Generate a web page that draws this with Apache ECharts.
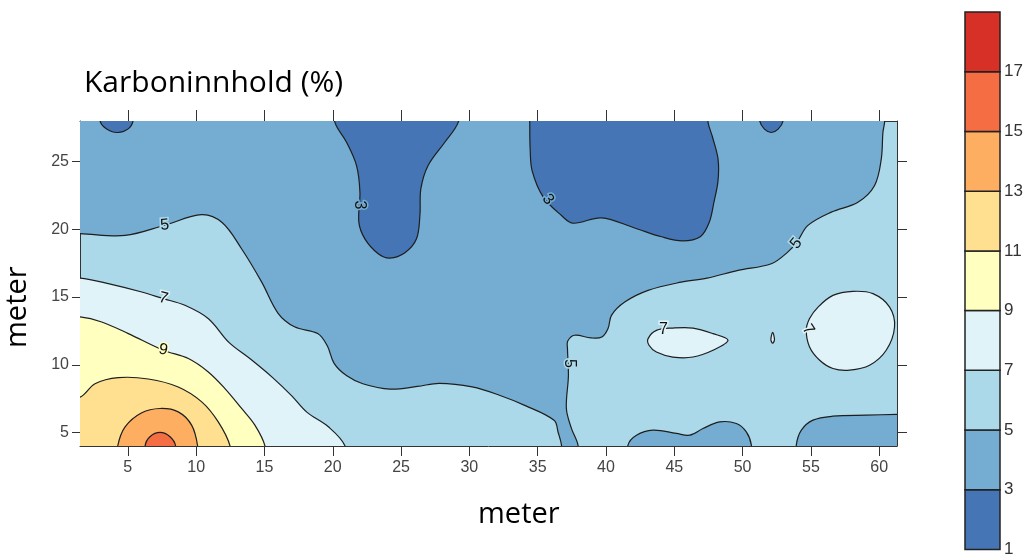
<!DOCTYPE html>
<html>
<head>
<meta charset="utf-8">
<script src="https://cdn.jsdelivr.net/npm/echarts@6/dist/echarts.min.js"></script>
<style>
html,body{margin:0;padding:0;background:#fff;}
#chart{width:1026px;height:558px;}
</style>
</head>
<body>
<div id="chart"></div>
<script>
// ---- axis ticks ----
const xTicks = [5, 10, 15, 20, 25, 30, 35, 40, 45, 50, 55, 60];
const yTicks = [5, 10, 15, 20, 25];
const levelTicks = [1, 3, 5, 7, 9, 11, 13, 15, 17];
const levelBounds = [1, 3, 5, 7, 9, 11, 13, 15, 17, 19];
const levelColors = ['#4575b4', '#74add1', '#abd9e9', '#e0f3f8', '#ffffbf', '#fee090', '#fdae61', '#f46d43', '#d73027'];

// ---- contour regions (data coordinates: meter x, meter y) ----
// 3-5 band, large region (upper part)
const band3to5Main = [
  [-1, 19.7], [1.5, 19.68], [4.8, 19.55], [7.7, 20.3], [10.4, 21.08], [11.9, 20.5], [13.3, 18.6],
  [14.8, 16.1], [16.0, 13.8], [17.2, 12.8], [18.9, 12.3], [19.6, 11.4], [20.1, 10.1], [21.0, 9.2],
  [22.2, 8.6], [24.2, 8.2], [26.2, 8.4], [27.8, 8.63], [30.2, 8.36], [32.2, 7.75], [34.05, 7.0],
  [36.2, 5.9], [36.5, 5.0], [36.75, 4.0], [36.8, 2], [37.9, 2], [37.96, 4.0], [37.47, 5.3],
  [37.1, 6.77], [37.25, 9.2], [37.18, 11.19], [37.2, 11.75], [37.7, 12.18], [38.9, 11.98],
  [39.7, 12.05], [40.15, 12.67], [40.4, 13.65], [41.37, 14.63], [43.08, 15.49], [45.5, 16.1],
  [47.4, 16.4], [49.66, 16.97], [52.1, 17.46], [53.3, 18.32], [54.0, 19.1], [54.78, 20.29],
  [56.49, 21.27], [58.44, 22.0], [59.66, 23.24], [60.15, 25.2], [60.27, 27.17], [60.4, 28],
  [60.45, 31], [-1, 31]
];
// 3-5 band, bottom patches
const band3to5PatchA = [
  [41.55, 2], [41.61, 4.06], [42.23, 4.8], [43.44, 5.17], [45.15, 4.93], [46.13, 4.8], [47.1, 5.29],
  [48.32, 5.78], [49.54, 5.66], [50.27, 5.04], [50.64, 4.06], [50.7, 2]
];
const band3to5PatchB = [
  [53.9, 2], [53.93, 4.06], [54.3, 5.17], [55.15, 5.91], [56.61, 6.2], [59.05, 6.28], [61.3, 6.33],
  [63.5, 6.35], [63.5, 2]
];
// 1-3 band regions
const band1to3A = [[2.9, 29.5], [2.97, 28], [3.4, 27.45], [4.2, 27.15], [5.0, 27.4], [5.38, 28], [5.45, 29.5]];
const band1to3B = [
  [20.1, 29.5], [20.16, 27.9], [21.01, 26.43], [21.74, 24.71], [21.99, 22.74], [21.91, 20.53],
  [22.35, 19.3], [23.33, 18.2], [24.18, 17.88], [25.28, 18.27], [26.13, 19.3], [26.38, 21.02],
  [26.45, 23.0], [26.98, 24.71], [28.2, 26.43], [29.18, 27.9], [29.3, 29.5]
];
const band1to3C = [
  [34.42, 29.5], [34.42, 27.9], [34.45, 25.9], [34.6, 24.3], [35.4, 22.4], [36.74, 21.02],
  [37.6, 20.45], [39.67, 20.85], [42.1, 20.1], [44.06, 19.45], [45.6, 19.15], [46.9, 19.45],
  [47.55, 20.5], [47.9, 22.0], [48.2, 23.6], [48.2, 25.2], [47.8, 26.8], [47.47, 27.9], [47.4, 29.5]
];
const band1to3D = [[51.2, 29.5], [51.25, 28], [51.6, 27.4], [52.1, 27.15], [52.6, 27.4], [52.96, 28], [53.0, 29.5]];
// 7-9 band (left, below the 7 contour)
const band7to9Left = [
  [-1, 16.5], [1.5, 16.4], [3.57, 15.99], [6.02, 15.37], [7.6, 14.88], [9.18, 14.39], [10.9, 13.4],
  [12.4, 11.65], [14.0, 10.4], [15.6, 9.05], [17.0, 7.7], [18.1, 6.5], [19.7, 5.4], [20.9, 4.0],
  [21.1, 2], [-1, 2]
];
// 7-9 islands on the right
const band7to9IslandA = [
  [43.08, 11.93], [43.69, 12.54], [44.9, 12.71], [46.37, 12.71], [47.83, 12.3], [48.93, 11.81],
  [47.83, 11.07], [46.37, 10.57], [44.9, 10.57], [43.69, 10.94], [43.15, 11.44]
];
const band7to9IslandB = [
  [54.66, 12.54], [54.9, 13.41], [55.52, 14.26], [56.61, 15.12], [58.07, 15.42], [59.54, 15.25],
  [60.76, 14.26], [61.12, 12.79], [60.51, 11.07], [59.29, 9.96], [57.83, 9.6], [56.61, 9.72],
  [55.64, 10.33], [54.9, 11.31]
];
const band7to9IslandC = [[52.2, 12.4], [52.33, 11.85], [52.2, 11.6], [52.07, 11.85]];
// 9-11, 11-13, 13-15, 15-17 bands (bottom-left)
const band9to11 = [
  [-1, 13.6], [1.5, 13.53], [3.09, 13.16], [5.04, 12.3], [7.6, 11.07], [9.43, 10.46], [10.89, 9.47],
  [12.11, 8.24], [13.33, 6.77], [14.3, 5.54], [15.04, 4.0], [15.2, 2], [-1, 2]
];
const band11to13 = [
  [-1, 7.0], [1.5, 7.6], [2.6, 8.6], [4.3, 9.05], [6.5, 8.95], [8.69, 8.36], [10.41, 7.26],
  [11.62, 5.78], [12.48, 4.0], [12.6, 2], [-1, 2]
];
const band13to15 = [
  [4.1, 2], [4.26, 4.0], [4.8, 5.41], [6.02, 6.45], [7.36, 6.77], [8.69, 6.52], [9.67, 5.54],
  [10.11, 4.0], [10.2, 2]
];
const band15to17 = [[6.2, 2], [6.26, 4.0], [6.62, 4.68], [7.36, 5.0], [8.09, 4.68], [8.5, 4.0], [8.55, 2]];

// ---- contour labels ----
const labelTexts = ['5', '7', '9', '3', '3', '5', '5', '7', '7'];
const labelPoints = [[7.7, 20.3], [7.6, 14.9], [7.6, 11.1], [21.95, 21.8], [35.75, 22.2], [37.3, 10.1], [53.93, 18.95], [44.2, 12.6], [54.8, 12.6]];
const labelAngles = [0.1, -0.25, -0.2, -1.5708, -0.9, -1.5708, 0.9, 0, -1.0];
const labelLevels = [2, 3, 4, 1, 1, 2, 2, 3, 3];

// ---- build ----
const regions = [
  { pts: band3to5Main, c: 1 }, { pts: band3to5PatchA, c: 1 }, { pts: band3to5PatchB, c: 1 },
  { pts: band1to3A, c: 0 }, { pts: band1to3B, c: 0 }, { pts: band1to3C, c: 0 }, { pts: band1to3D, c: 0 },
  { pts: band7to9Left, c: 3 }, { pts: band9to11, c: 4 }, { pts: band11to13, c: 5 },
  { pts: band13to15, c: 6 }, { pts: band15to17, c: 7 },
  { pts: band7to9IslandA, c: 3 }, { pts: band7to9IslandB, c: 3 }, { pts: band7to9IslandC, c: 3 }
];

const chart = echarts.init(document.getElementById('chart'), null, { renderer: 'canvas' });
const tickFont = 'Liberation Sans, Arial, sans-serif';
const nameFont = 'Open Sans, Lato, sans-serif';

const option = {
  animation: false,
  backgroundColor: '#ffffff',
  title: {
    text: 'Karboninnhold (%)',
    left: 79, top: 63,
    textStyle: { fontFamily: nameFont, fontSize: 30, fontWeight: 'normal', color: '#000' }
  },
  graphic: [
    {
      type: 'text', left: 478, top: 500,
      style: { text: 'meter', fontFamily: nameFont, fontSize: 29, fill: '#000' }
    },
    {
      type: 'text', x: 3, y: 348, rotation: Math.PI / 2,
      style: { text: 'meter', fontFamily: nameFont, fontSize: 29, fill: '#000', align: 'left', verticalAlign: 'top' }
    }
  ],
  grid: [
    { left: 80, top: 121, width: 817, height: 325, show: true, backgroundColor: levelColors[2], borderWidth: 0 },
    { left: 965, top: 12, width: 35, height: 543, show: false }
  ],
  xAxis: [
    {
      gridIndex: 0, type: 'value', min: 1.5, max: 61.3, position: 'bottom',
      axisLine: { show: true, onZero: false, lineStyle: { color: '#333', width: 1 } },
      axisTick: { show: true, length: 10, customValues: xTicks, lineStyle: { color: '#333' } },
      axisLabel: { customValues: xTicks, fontSize: 16, color: '#444', fontFamily: tickFont, margin: 14 },
      splitLine: { show: false }
    },
    {
      gridIndex: 0, type: 'value', min: 1.5, max: 61.3, position: 'top',
      axisLine: { show: true, onZero: false, lineStyle: { color: '#333', width: 1 } },
      axisTick: { show: true, length: 11, customValues: xTicks, lineStyle: { color: '#333' } },
      axisLabel: { show: false },
      splitLine: { show: false }
    },
    { gridIndex: 1, type: 'value', min: 0, max: 1, show: false }
  ],
  yAxis: [
    {
      gridIndex: 0, type: 'value', min: 4, max: 28, position: 'left',
      axisLine: { show: true, onZero: false, lineStyle: { color: '#333', width: 1 } },
      axisTick: { show: true, length: 8, customValues: yTicks, lineStyle: { color: '#333' } },
      axisLabel: { customValues: yTicks, fontSize: 16, color: '#444', fontFamily: tickFont, margin: 11 },
      splitLine: { show: false }
    },
    {
      gridIndex: 0, type: 'value', min: 4, max: 28, position: 'right',
      axisLine: { show: true, onZero: false, lineStyle: { color: '#333', width: 1 } },
      axisTick: { show: true, length: 10, customValues: yTicks, lineStyle: { color: '#333' } },
      axisLabel: { show: false },
      splitLine: { show: false }
    },
    {
      gridIndex: 1, type: 'value', min: 1, max: 19, position: 'right',
      axisLine: { show: false }, axisTick: { show: false },
      axisLabel: { customValues: levelTicks, fontSize: 17, color: '#333', fontFamily: tickFont, margin: 4 },
      splitLine: { show: false }
    }
  ],
  series: [
    {
      type: 'custom', xAxisIndex: 0, yAxisIndex: 0, clip: true,
      data: regions.map((r, i) => [i]),
      renderItem: function (params, api) {
        const r = regions[api.value(0)];
        const pts = r.pts.map(p => api.coord(p));
        return {
          type: 'polygon',
          shape: { points: pts, smooth: 0.35 },
          style: { fill: levelColors[r.c], stroke: '#1e1e1e', lineWidth: 1.2 }
        };
      }
    },
    {
      type: 'custom', xAxisIndex: 0, yAxisIndex: 0, clip: true,
      data: labelTexts.map((t, i) => [i]),
      renderItem: function (params, api) {
        const i = api.value(0);
        const p = api.coord(labelPoints[i]);
        return {
          type: 'text', x: p[0], y: p[1], rotation: labelAngles[i],
          style: {
            text: labelTexts[i], fontSize: 16, fontFamily: tickFont, fill: '#111',
            align: 'center', verticalAlign: 'middle',
            stroke: levelColors[labelLevels[i]], lineWidth: 3
          }
        };
      }
    },
    {
      type: 'custom', xAxisIndex: 2, yAxisIndex: 2,
      data: levelColors.map((c, i) => [i]),
      renderItem: function (params, api) {
        const i = api.value(0);
        const a = api.coord([0, levelBounds[i]]);
        const b = api.coord([1, levelBounds[i + 1]]);
        return {
          type: 'rect',
          shape: { x: a[0], y: b[1], width: b[0] - a[0], height: a[1] - b[1] },
          style: { fill: levelColors[i], stroke: '#222', lineWidth: 1.5 }
        };
      }
    }
  ]
};
chart.setOption(option);
</script>
</body>
</html>
